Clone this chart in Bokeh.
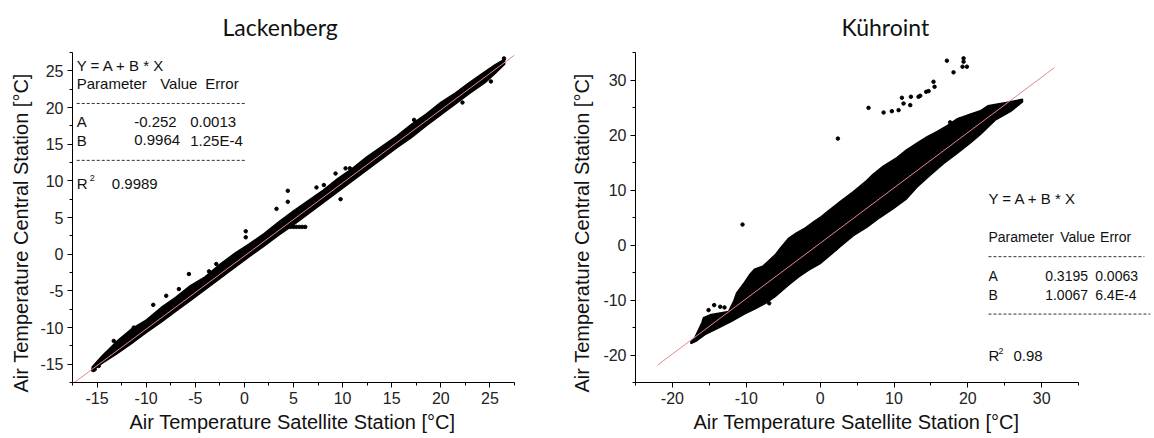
from bokeh.plotting import figure
from bokeh.models import Label, FixedTicker, Title
from bokeh.layouts import row
from bokeh.embed import file_html
from bokeh.resources import INLINE

# ------------------------------------------------------------------ data
# --- Lackenberg (left panel)
LACK_TITLE = "Lackenberg"
LACK_A, LACK_B = -0.252, 0.9964
LACK_FIT_X = [-17.5, 27.5]
LACK_MAJOR = [-15, -10, -5, 0, 5, 10, 15, 20, 25]
LACK_TICK_LABELS = ["-15", "-10", "-5", "0", "5", "10", "15", "20", "25"]
LACK_MINOR = [-17.5, -12.5, -7.5, -2.5, 2.5, 7.5, 12.5, 17.5, 22.5, 27.5]
# outline of the dense point cloud (upper edge left->right, lower edge right->left)
LACK_UP_X = [-15.5, -14.5, -13.0, -11.5, -10.0, -8.5, -7.0, -5.5, -4.0, -2.5, -1.0, 0.5, 2.0, 3.5,
             5.0, 6.5, 8.0, 9.5, 11.0, 12.5, 14.0, 15.5, 17.0, 18.5, 20.0, 21.5, 23.0, 24.5, 25.5, 26.5]
LACK_UP_Y = [-15.4, -13.9, -11.9, -10.2, -9.0, -7.3, -5.9, -4.3, -3.1, -1.4, 0.1, 1.4, 2.8, 4.4,
             5.9, 7.3, 8.7, 10.3, 11.7, 13.3, 14.7, 16.1, 17.7, 19.1, 20.7, 22.0, 23.5, 24.9, 25.8, 26.6]
LACK_LO_X = [26.5, 25.5, 24.5, 23.0, 21.5, 20.0, 18.5, 17.0, 15.5, 14.0, 12.5, 11.0, 9.5, 8.0,
             6.5, 5.0, 3.5, 2.0, 0.5, -1.0, -2.5, -4.0, -5.5, -7.0, -8.5, -10.0, -11.5, -13.0, -14.5, -15.5]
LACK_LO_Y = [25.9, 24.6, 23.4, 22.0, 20.5, 19.0, 17.5, 15.9, 14.5, 13.0, 11.5, 10.0, 8.5, 7.0,
             5.5, 4.0, 2.6, 1.1, -0.35, -1.85, -3.35, -4.85, -6.35, -7.8, -9.3, -10.7, -12.2, -13.6, -14.9, -15.9]
# individual scattered points around the cloud
LACK_DOT_X = [-15.4, -15.24, -14.83, -13.3, -13.13, -11.26, -9.28, -7.96, -6.67, -5.65, -3.6, -2.86,
              0.14, 0.14, 3.27, 4.42, 4.42, 7.34, 8.09, 9.28, 10.3, 10.74, 17.28, 25.95, 26.43,
              9.79, 22.2, 25.1, 4.7, 5.0, 5.3, 5.6, 5.9, 6.2]
LACK_DOT_Y = [-15.8, -15.71, -15.25, -11.83, -12.52, -10.01, -6.91, -5.68, -4.76, -2.71, -2.35, -1.34,
              3.12, 2.30, 6.18, 8.64, 7.14, 9.1, 9.42, 11.0, 11.7, 11.7, 18.31, 25.7, 26.69,
              7.5, 20.68, 23.55, 3.72, 3.72, 3.72, 3.72, 3.72, 3.72]

# --- Kühroint (right panel)
KUEH_TITLE = "Kühroint"
KUEH_A, KUEH_B = 0.3195, 1.0067
KUEH_FIT_X = [-22.0, 31.7]
KUEH_MAJOR = [-20, -10, 0, 10, 20, 30]
KUEH_TICK_LABELS = ["-20", "-10", "0", "10", "20", "30"]
KUEH_MINOR = [-25, -15, -5, 5, 15, 25, 35]
KUEH_UP_X = [-17.5, -17.0, -16.0, -15.8, -14.9, -12.4, -11.7, -11.3, -10.4, -9.5, -8.9, -7.7, -7.0,
             -6.1, -5.4, -4.3, -3.2, -2.0, -0.9, 0.0, 0.9, 2.7, 4.5, 6.3, 7.2, 8.6, 10.4, 11.7,
             13.1, 14.5, 15.8, 17.2, 18.5, 20.3, 21.7, 22.7, 25.2, 27.4]
KUEH_UP_Y = [-17.6, -16.9, -14.1, -13.2, -12.7, -12.1, -10.2, -8.7, -7.1, -5.3, -4.4, -3.8, -2.9,
             -1.8, -0.6, 1.2, 2.2, 3.1, 4.2, 5.0, 6.0, 7.9, 9.7, 11.7, 12.9, 14.4, 15.9, 17.3,
             18.5, 19.7, 20.6, 21.7, 22.9, 23.8, 24.4, 25.3, 25.9, 26.5]
KUEH_LO_X = [27.4, 25.8, 23.7, 21.7, 20.3, 18.5, 16.7, 14.9, 13.1, 11.7, 9.9, 8.1, 6.3, 4.5,
             2.7, 1.6, 0.0, -1.6, -2.9, -4.3, -6.1, -7.4, -8.8, -10.2, -12.0, -13.8, -15.6, -16.7, -17.5]
KUEH_LO_Y = [26.0, 24.3, 22.7, 20.1, 18.5, 16.6, 14.8, 12.7, 10.5, 8.4, 6.6, 5.0, 3.2, 1.7,
             -0.3, -1.6, -3.4, -4.6, -5.8, -7.3, -9.4, -10.6, -11.6, -12.5, -13.9, -15.1, -16.3, -17.4, -17.9]
KUEH_DOT_X = [17.16, 19.42, 19.42, 19.28, 19.87, 18.06, 15.35, 15.49, 14.68, 14.36, 13.55, 13.32,
              12.29, 11.07, 11.29, 12.2, 10.62, 9.71, 8.59, 6.55, 2.40, -10.51,
              -15.11, -14.35, -13.53, -12.95, -6.9, 2.13, 17.6, 18.96]
KUEH_DOT_Y = [33.51, 33.94, 33.33, 32.42, 32.42, 31.39, 29.68, 28.77, 27.98, 27.86, 27.13, 26.95,
              26.95, 26.77, 25.73, 25.43, 24.52, 24.33, 24.09, 24.94, 19.35, 3.72,
              -11.84, -10.93, -11.23, -11.35, -10.6, -0.65, 22.3, 22.87]

X_LABEL = "Air Temperature Satellite Station [°C]"
Y_LABEL = "Air Temperature Central Station [°C]"

# ------------------------------------------------------------------ style
SANS = "Liberation Sans"
TITLE_FONT = "Lato"
INK = "#111111"
FIT_COLOR = "#e8868c"


def txt(p, x, y, s, size="15px", align="left", baseline="middle", font=SANS):
    p.add_layout(Label(x=x, y=y, text=s, text_font=font, text_font_size=size,
                       text_color=INK, text_align=align, text_baseline=baseline))


def side_text(p, s, side, offset, standoff, size="20px", font=SANS, valign="bottom"):
    t = Title(text=s, align="left", offset=offset, standoff=standoff,
              text_font=font, text_font_size=size, text_font_style="normal",
              text_color=INK, vertical_align=valign)
    p.add_layout(t, side)


def make_panel(width, xr, yr, border_left, border_right, major, labels, minor, xbounds=None):
    p = figure(width=width, height=438, x_range=xr, y_range=yr,
               output_backend="svg", toolbar_location=None,
               min_border_left=border_left, min_border_right=border_right,
               min_border_top=52, min_border_bottom=56)
    p.title.visible = False
    p.outline_line_color = None
    p.xgrid.visible = False
    p.ygrid.visible = False
    p.background_fill_color = "white"
    p.border_fill_color = "white"
    overrides = {v: s for v, s in zip(major, labels)}
    for ax in (p.xaxis[0], p.yaxis[0]):
        ax.ticker = FixedTicker(ticks=major, minor_ticks=minor)
        ax.major_label_overrides = overrides
        ax.axis_line_color = "black"
        ax.axis_line_width = 1
        ax.major_tick_line_color = "black"
        ax.minor_tick_line_color = "black"
        ax.major_tick_out = 5
        ax.major_tick_in = 0
        ax.minor_tick_out = 3
        ax.minor_tick_in = 0
        ax.major_label_text_font = SANS
        ax.major_label_text_font_size = "16px"
        ax.major_label_text_color = "#222222"
        ax.major_label_standoff = 4
    if xbounds is not None:
        p.xaxis[0].bounds = xbounds
    return p


# ------------------------------------------------------------------ left panel
p1 = make_panel(560, (-17.5, 27.5), (-17.5, 27.5), 72, 46, LACK_MAJOR, LACK_TICK_LABELS, LACK_MINOR)
side_text(p1, LACK_TITLE, "above", 150, 22, size="23px", font=TITLE_FONT, valign="middle")
side_text(p1, X_LABEL, "below", 57, 4)
side_text(p1, Y_LABEL, "left", -10, 12)

p1.patch(LACK_UP_X + LACK_LO_X, LACK_UP_Y + LACK_LO_Y, fill_color="black",
         line_color="black", line_width=1.5)
p1.scatter(LACK_DOT_X, LACK_DOT_Y, size=3.5, color="black")
p1.line(LACK_FIT_X, [LACK_A + LACK_B * x for x in LACK_FIT_X], line_color=FIT_COLOR, line_width=1)

txt(p1, -17.07, 25.79, "Y = A + B * X")
txt(p1, -17.07, 23.29, "Parameter")
txt(p1, -8.57, 23.29, "Value")
txt(p1, -3.98, 23.29, "Error")
p1.line([-17.07, 0.1], [20.55, 20.55], line_color="#333333", line_width=1, line_dash="3 2")
txt(p1, -17.07, 18.03, "A")
txt(p1, -11.22, 18.03, "-0.252")
txt(p1, -5.51, 18.03, "0.0013")
txt(p1, -17.07, 15.53, "B")
txt(p1, -11.22, 15.53, "0.9964")
txt(p1, -5.51, 15.53, "1.25E-4")
p1.line([-17.07, 0.1], [12.79, 12.79], line_color="#333333", line_width=1, line_dash="3 2")
txt(p1, -17.07, 9.61, "R")
txt(p1, -15.75, 10.4, "2", size="9px")
txt(p1, -13.5, 9.61, "0.9989")

# ------------------------------------------------------------------ right panel
p2 = make_panel(594, (-25, 45), (-25, 35), 75, 2, KUEH_MAJOR, KUEH_TICK_LABELS, KUEH_MINOR,
                xbounds=(-25, 35))
side_text(p2, KUEH_TITLE, "above", 206, 22, size="23px", font=TITLE_FONT, valign="middle")
side_text(p2, X_LABEL, "below", 58, 4)
side_text(p2, Y_LABEL, "left", -10, 15)

p2.patch(KUEH_UP_X + KUEH_LO_X, KUEH_UP_Y + KUEH_LO_Y, fill_color="black",
         line_color="black", line_width=1.5)
p2.scatter(KUEH_DOT_X, KUEH_DOT_Y, size=3.5, color="black")
p2.line(KUEH_FIT_X, [KUEH_A + KUEH_B * x for x in KUEH_FIT_X], line_color=FIT_COLOR, line_width=1)

txt(p2, 22.79, 8.41, "Y = A + B * X")
txt(p2, 22.79, 1.41, "Parameter", size="14px")
txt(p2, 32.5, 1.41, "Value", size="14px")
txt(p2, 37.9, 1.41, "Error", size="14px")
p2.line([22.79, 43.9], [-2.12, -2.12], line_color="#333333", line_width=1, line_dash="3 2")
txt(p2, 22.79, -5.58, "A", size="14px")
txt(p2, 30.47, -5.58, "0.3195", size="14px")
txt(p2, 37.24, -5.58, "0.0063", size="14px")
txt(p2, 22.79, -9.1, "B", size="14px")
txt(p2, 30.47, -9.1, "1.0067", size="14px")
txt(p2, 37.24, -9.1, "6.4E-4", size="14px")
p2.line([22.79, 44.7], [-12.56, -12.56], line_color="#333333", line_width=1, line_dash="3 2")
txt(p2, 22.79, -20.17, "R")
txt(p2, 24.15, -19.26, "2", size="9px")
txt(p2, 26.18, -20.17, "0.98")

layout = row(p1, p2)
open("out.html", "w").write(file_html(layout, INLINE))
